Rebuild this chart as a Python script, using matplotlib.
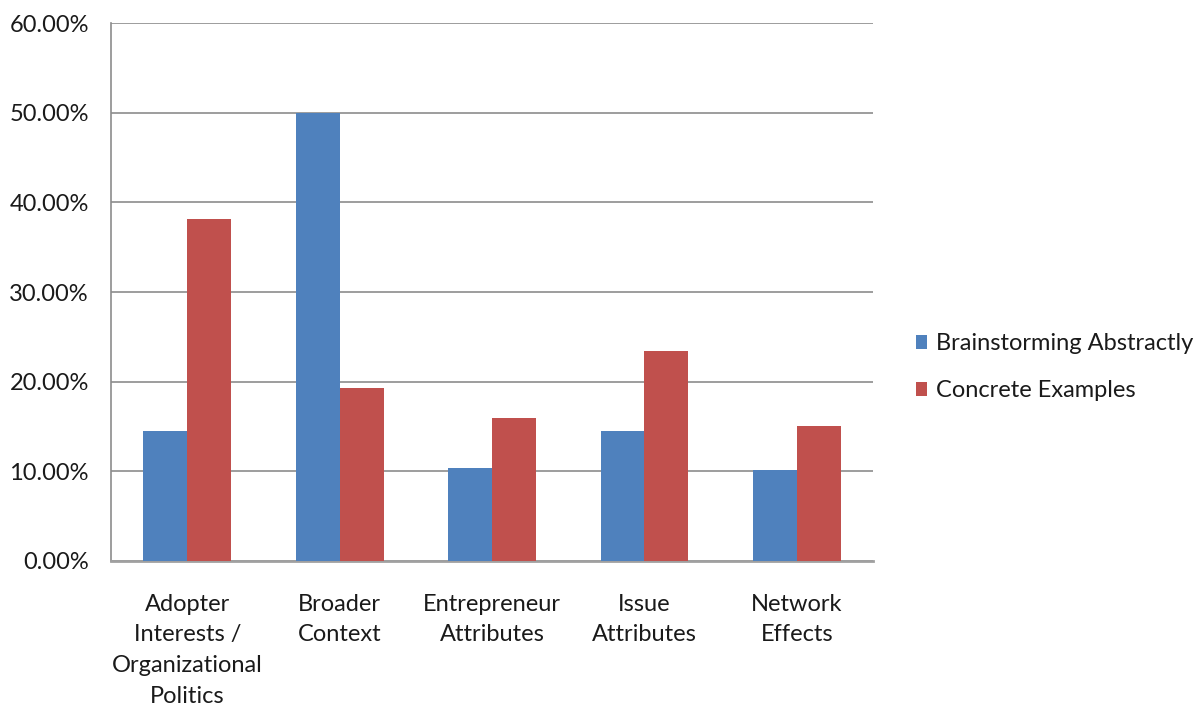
import numpy as np
import matplotlib
matplotlib.use('Agg')
import matplotlib.pyplot as plt
from matplotlib.ticker import FuncFormatter

plt.rcParams['font.family'] = ['Lato', 'DejaVu Sans']

categories = ['Adopter\nInterests /\nOrganizational\nPolitics', 'Broader\nContext',
              'Entrepreneur\nAttributes', 'Issue\nAttributes', 'Network\nEffects']
brainstorming = [14.46, 50.0, 10.33, 14.46, 10.18]
concrete = [38.1, 19.29, 15.98, 23.38, 15.0]
series_names = ['Brainstorming Abstractly', 'Concrete Examples']

blue = '#4f81bd'
red = '#c0504d'

fig = plt.figure(figsize=(11.98, 7.06), dpi=100)
ax = fig.add_axes([0.0927, 0.2054, 0.636, 0.762])

x = np.arange(len(categories))
w = 0.288
ax.bar(x - w / 2, brainstorming, width=w, color=blue, label=series_names[0], zorder=3)
ax.bar(x + w / 2, concrete, width=w, color=red, label=series_names[1], zorder=3)

ax.set_xlim(-0.5, len(categories) - 0.5)
ax.set_ylim(0, 60)
ax.set_yticks(np.arange(0, 61, 10))
ax.yaxis.set_major_formatter(FuncFormatter(lambda v, p: '%.2f%%' % v))
ax.grid(axis='y', color='#8c8c8c', linewidth=1.2, zorder=0)
ax.set_xticks(x)
ax.set_xticklabels(categories, linespacing=1.57)
ax.tick_params(axis='both', length=0, labelsize=17, colors='#1a1a1a')
ax.tick_params(axis='x', pad=23.5)
ax.tick_params(axis='y', pad=16)

for s in ['top', 'right']:
    ax.spines[s].set_visible(False)
ax.spines['left'].set_color('#8c8c8c')
ax.spines['left'].set_linewidth(1.2)
ax.spines['bottom'].set_color('#a0a0a0')
ax.spines['bottom'].set_linewidth(2)

ax.legend(loc='center left', bbox_to_anchor=(1.028, 0.36), frameon=False, fontsize=17,
          handlelength=0.5, handleheight=0.5, handletextpad=0.35, labelspacing=1.1,
          labelcolor='#1a1a1a')

plt.savefig('out.png', dpi=100)
